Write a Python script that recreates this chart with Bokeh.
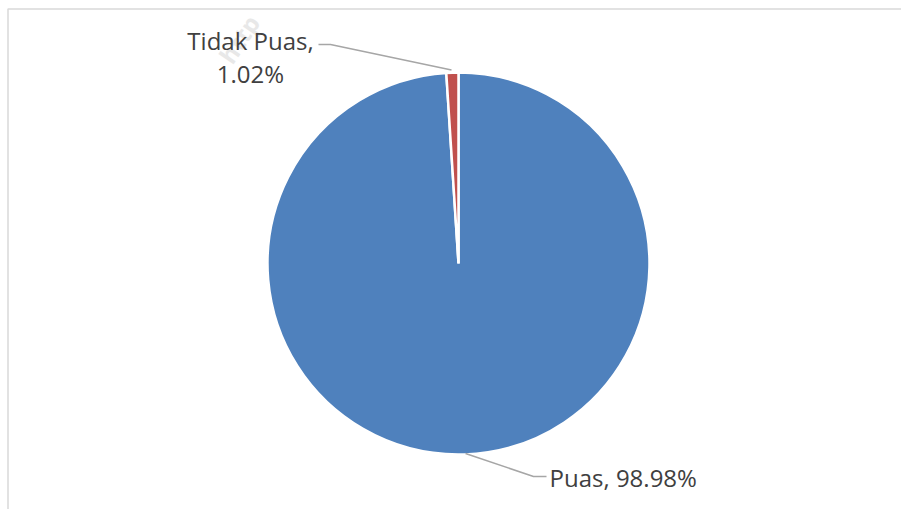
import numpy as np
from bokeh.plotting import figure
from bokeh.models import Range1d
from bokeh.core.properties import value
from bokeh.embed import file_html
from bokeh.resources import INLINE

# ---- data ----
categories = ["Puas", "Tidak Puas"]
values = [98.98, 1.02]
colors = ["#4F81BD", "#C0504D"]

W, H = 901, 509
p = figure(width=W, height=H, output_backend="svg", toolbar_location=None,
           x_range=Range1d(0, W), y_range=Range1d(0, H), min_border=0)
p.axis.visible = False
p.grid.visible = False
p.outline_line_color = None
p.background_fill_color = "white"
p.border_fill_color = "white"

def Y(py):
    return H - py

# chart border
p.quad(left=[7.5], right=[W + 10], top=[Y(8.5)], bottom=[-10],
       fill_color=None, line_color="#D9D9D9", line_width=1.5)

# watermark (faint)
p.text(x=[224], y=[Y(60)], text=["http"], angle=np.deg2rad(56),
       text_font=value("Open Sans"), text_font_size="24px", text_font_style="bold",
       text_color="#E8E8E8", text_baseline="alphabetic")

# pie
cx, cy, r = 458, Y(263), 191
v = np.array(values, dtype=float)
frac = v / v.sum()
cum = np.concatenate([[0], np.cumsum(frac)[:-1]])
start = np.deg2rad(90 - cum * 360)
end = np.deg2rad(90 - (cum + frac) * 360)
p.wedge(x=cx, y=cy, radius=r, start_angle=start, end_angle=end,
        direction="clock", fill_color=colors, line_color="white", line_width=2.5)

# leader lines
lc = "#A6A6A6"
p.line(x=[318, 330, 451], y=[Y(44), Y(44), Y(69.5)], line_color=lc, line_width=1.5)
p.line(x=[465, 533, 546], y=[Y(453), Y(476), Y(476)], line_color=lc, line_width=1.5)

font = value("Open Sans")
tc = "#404040"
# Tidak Puas label (two lines)
p.text(x=[250, 250], y=[Y(40), Y(73)],
       text=[f"{categories[1]},", f"{values[1]:.2f}%"],
       text_font=font, text_font_size="24px", text_color=tc,
       text_align="center", text_baseline="alphabetic")
# Puas label
p.text(x=[549], y=[Y(477)], text=[f"{categories[0]}, {values[0]:.2f}%"],
       text_font=font, text_font_size="24px", text_color=tc,
       text_align="left", text_baseline="alphabetic")

open("out.html", "w").write(file_html(p, INLINE))
